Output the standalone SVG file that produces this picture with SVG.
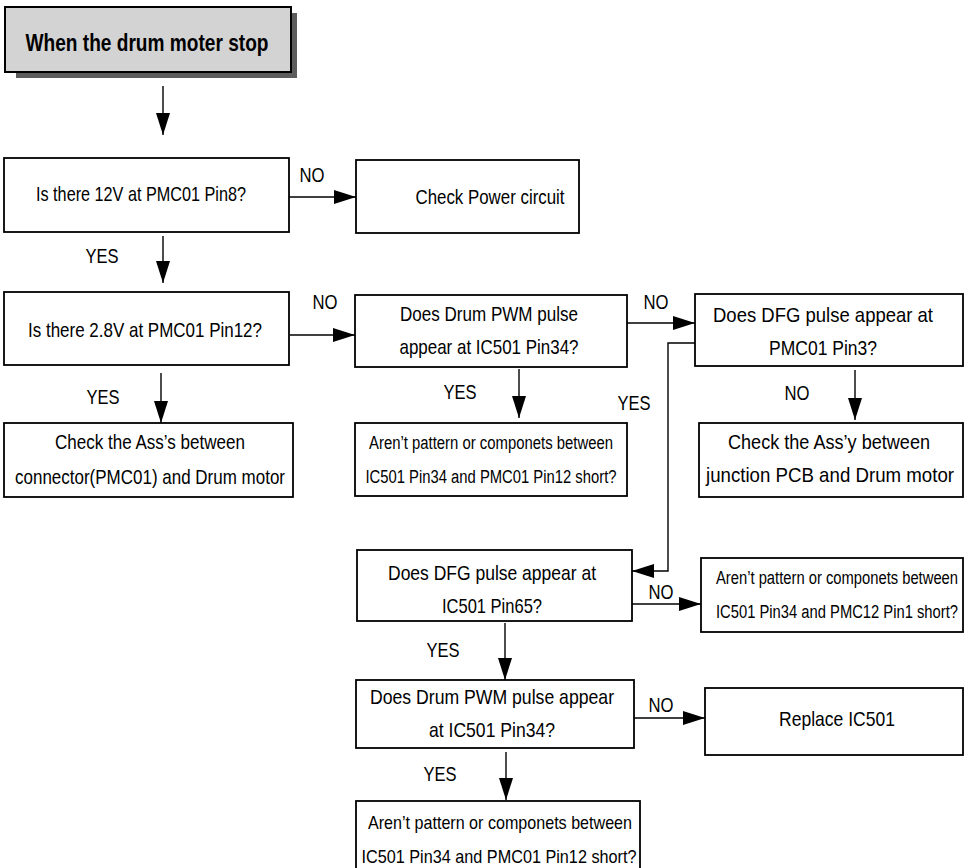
<svg xmlns="http://www.w3.org/2000/svg" width="965" height="868" viewBox="0 0 965 868">
  <style>
    .box { fill: #ffffff; stroke: #000000; stroke-width: 1.8; }
    .title { fill: #d3d3d3; stroke: #000000; stroke-width: 2; }
    .shadow { fill: #5c5c5c; }
    .wire { fill: none; stroke: #000000; stroke-width: 1.4; marker-end: url(#head); }
    text { font-family: "Liberation Sans", Arial, sans-serif; fill: #000000; text-anchor: middle; }
    .t { font-size: 21px; }
    .s { font-size: 18px; }
    .m { font-size: 19px; }
    .h { font-size: 24px; font-weight: bold; }
    .lbl { font-size: 21px; }
  </style>
  <defs>
    <marker id="head" markerUnits="userSpaceOnUse" markerWidth="23" markerHeight="14" refX="22" refY="7" orient="auto">
      <path d="M0,0 L22,7 L0,14 Z" fill="#000000"/>
    </marker>
  </defs>

  <rect width="965" height="868" fill="#ffffff"/>

  <!-- start node -->
  <g id="start">
    <rect class="shadow" x="16" y="13" width="281" height="65"/>
    <rect class="title" x="5" y="7" width="286" height="65"/>
    <text class="h" x="147" y="51" textLength="243" lengthAdjust="spacingAndGlyphs">When the drum moter stop</text>
  </g>

  <g id="q-12v">
    <rect class="box" x="4" y="158" width="285" height="74"/>
    <text class="t" x="141" y="201" textLength="210" lengthAdjust="spacingAndGlyphs">Is there 12V at PMC01 Pin8?</text>
  </g>

  <g id="power">
    <rect class="box" x="356" y="160" width="223" height="73"/>
    <text class="t" x="490" y="204" textLength="149" lengthAdjust="spacingAndGlyphs">Check Power circuit</text>
  </g>

  <g id="q-28v">
    <rect class="box" x="4" y="292" width="285" height="73"/>
    <text class="t" x="145" y="337" textLength="234" lengthAdjust="spacingAndGlyphs">Is there 2.8V at PMC01 Pin12?</text>
  </g>

  <g id="ass-connector">
    <rect class="box" x="4" y="423" width="289" height="74"/>
    <text class="t" x="150" y="449" textLength="190" lengthAdjust="spacingAndGlyphs">Check the Ass’s between</text>
    <text class="t" x="150" y="484" textLength="270" lengthAdjust="spacingAndGlyphs">connector(PMC01) and Drum motor</text>
  </g>

  <g id="q-pwm-1">
    <rect class="box" x="355" y="295" width="272" height="72"/>
    <text class="t" x="489" y="321" textLength="178" lengthAdjust="spacingAndGlyphs">Does Drum PWM pulse</text>
    <text class="t" x="489" y="354" textLength="179" lengthAdjust="spacingAndGlyphs">appear at IC501 Pin34?</text>
  </g>

  <g id="short-1">
    <rect class="box" x="355" y="423" width="272" height="73"/>
    <text class="s" x="491" y="449" textLength="244" lengthAdjust="spacingAndGlyphs">Aren’t pattern or componets between</text>
    <text class="s" x="491" y="483" textLength="251" lengthAdjust="spacingAndGlyphs">IC501 Pin34 and PMC01 Pin12 short?</text>
  </g>

  <g id="q-dfg-pmc">
    <rect class="box" x="695" y="294" width="268" height="72"/>
    <text class="t" x="823" y="322" textLength="220" lengthAdjust="spacingAndGlyphs">Does DFG pulse appear at</text>
    <text class="t" x="823" y="355" textLength="108" lengthAdjust="spacingAndGlyphs">PMC01 Pin3?</text>
  </g>

  <g id="ass-junction">
    <rect class="box" x="699" y="423" width="264" height="74"/>
    <text class="t" x="829" y="449" textLength="202" lengthAdjust="spacingAndGlyphs">Check the Ass’y between</text>
    <text class="t" x="830" y="482" textLength="248" lengthAdjust="spacingAndGlyphs">junction PCB and Drum motor</text>
  </g>

  <g id="q-dfg-ic">
    <rect class="box" x="357" y="550" width="275" height="71"/>
    <text class="t" x="492" y="580" textLength="208" lengthAdjust="spacingAndGlyphs">Does DFG pulse appear at</text>
    <text class="t" x="492" y="613" textLength="100" lengthAdjust="spacingAndGlyphs">IC501 Pin65?</text>
  </g>

  <g id="short-2">
    <rect class="box" x="701" y="558" width="262" height="74"/>
    <text class="s" x="837" y="584" textLength="242" lengthAdjust="spacingAndGlyphs">Aren’t pattern or componets between</text>
    <text class="s" x="837" y="618" textLength="242" lengthAdjust="spacingAndGlyphs">IC501 Pin34 and PMC12 Pin1 short?</text>
  </g>

  <g id="q-pwm-2">
    <rect class="box" x="356" y="680" width="278" height="68"/>
    <text class="t" x="492" y="704" textLength="244" lengthAdjust="spacingAndGlyphs">Does Drum PWM pulse appear</text>
    <text class="t" x="492" y="737" textLength="126" lengthAdjust="spacingAndGlyphs">at IC501 Pin34?</text>
  </g>

  <g id="replace">
    <rect class="box" x="705" y="688" width="258" height="67"/>
    <text class="t" x="837" y="726" textLength="116" lengthAdjust="spacingAndGlyphs">Replace IC501</text>
  </g>

  <g id="short-3">
    <rect class="box" x="356" y="801" width="284" height="80"/>
    <text class="m" x="500" y="829" textLength="264" lengthAdjust="spacingAndGlyphs">Aren’t pattern or componets between</text>
    <text class="m" x="499" y="863" textLength="275" lengthAdjust="spacingAndGlyphs">IC501 Pin34 and PMC01 Pin12 short?</text>
  </g>

  <!-- connectors -->
  <g id="connectors">
    <line class="wire" x1="163" y1="86" x2="163" y2="135"/>
    <line class="wire" x1="289" y1="197" x2="356" y2="197"/>
    <line class="wire" x1="163" y1="236" x2="163" y2="283"/>
    <line class="wire" x1="290" y1="335" x2="355" y2="335"/>
    <line class="wire" x1="161" y1="373" x2="161" y2="423"/>
    <line class="wire" x1="519" y1="369" x2="519" y2="418"/>
    <line class="wire" x1="627" y1="323" x2="695" y2="323"/>
    <line class="wire" x1="855" y1="370" x2="855" y2="420"/>
    <polyline class="wire" points="695,343 668,343 668,571 632,571"/>
    <line class="wire" x1="632" y1="604" x2="701" y2="604"/>
    <line class="wire" x1="505" y1="623" x2="505" y2="680"/>
    <line class="wire" x1="634" y1="718" x2="705" y2="718"/>
    <line class="wire" x1="506" y1="752" x2="506" y2="800"/>
  </g>

  <!-- branch labels -->
  <g id="labels">
    <text class="lbl" x="312" y="182" textLength="25" lengthAdjust="spacingAndGlyphs">NO</text>
    <text class="lbl" x="102" y="263" textLength="33" lengthAdjust="spacingAndGlyphs">YES</text>
    <text class="lbl" x="325" y="309" textLength="25" lengthAdjust="spacingAndGlyphs">NO</text>
    <text class="lbl" x="103" y="404" textLength="33" lengthAdjust="spacingAndGlyphs">YES</text>
    <text class="lbl" x="460" y="399" textLength="33" lengthAdjust="spacingAndGlyphs">YES</text>
    <text class="lbl" x="656" y="309" textLength="25" lengthAdjust="spacingAndGlyphs">NO</text>
    <text class="lbl" x="634" y="410" textLength="33" lengthAdjust="spacingAndGlyphs">YES</text>
    <text class="lbl" x="797" y="400" textLength="25" lengthAdjust="spacingAndGlyphs">NO</text>
    <text class="lbl" x="661" y="599" textLength="25" lengthAdjust="spacingAndGlyphs">NO</text>
    <text class="lbl" x="443" y="657" textLength="33" lengthAdjust="spacingAndGlyphs">YES</text>
    <text class="lbl" x="661" y="712" textLength="25" lengthAdjust="spacingAndGlyphs">NO</text>
    <text class="lbl" x="440" y="781" textLength="33" lengthAdjust="spacingAndGlyphs">YES</text>
  </g>
</svg>
